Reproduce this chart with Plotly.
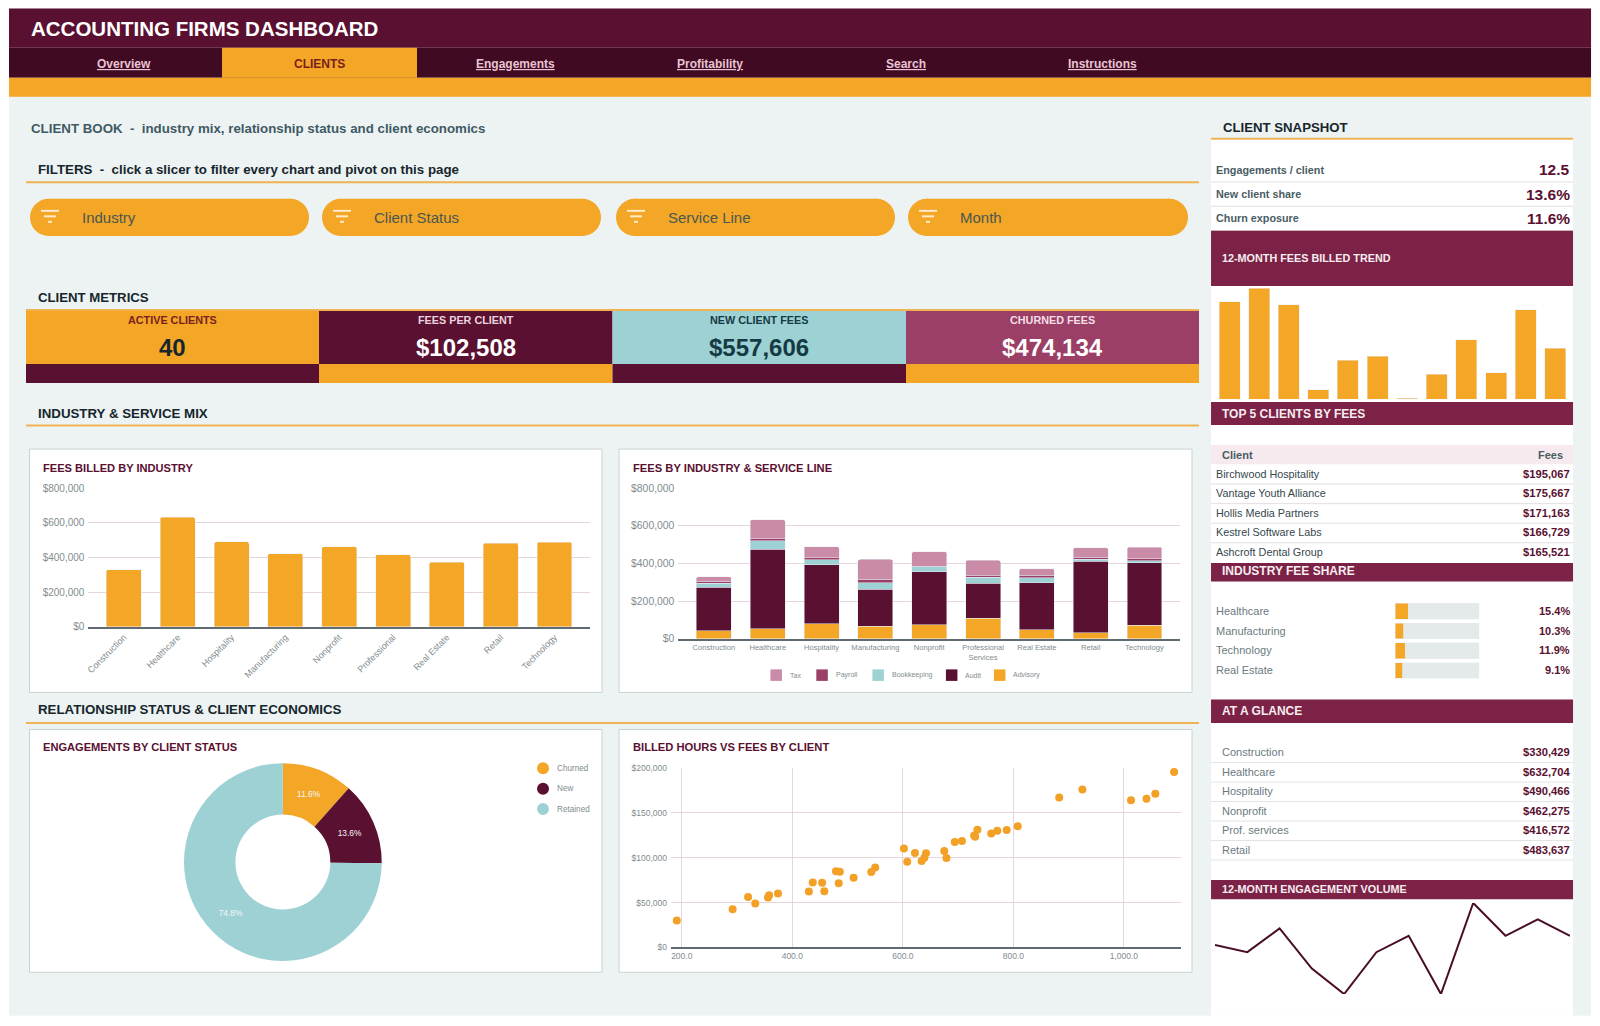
import plotly.graph_objects as go

W = 1600
H = 1026
# the photographed page comes out slightly shrunk and shifted, so layout coordinates are
# written in picture pixels and mapped back to page pixels in fx / fy
SHIFT_X = 3.0
SCALE_X = 0.9981
SHIFT_Y = 5.4
SCALE_Y = 0.9881
FONT = "Liberation Sans"

ORANGE = "#F4A626"
WINE = "#5A1031"
NAV = "#3F0A22"
BAND = "#7B2246"
TEAL = "#9DD1D4"
ROSE = "#9B3F66"
PINK = "#C98BA6"
PAGE = "#EDF3F3"
GRID = "#E6D5DC"
AXIS = "#5F6B70"
TICK = "#7F8C8F"
SLATE = "#3F5A63"
INK = "#16262C"

# nav + filters
nav_labels = ["Overview", "CLIENTS", "Engagements", "Profitability", "Search", "Instructions"]
slicers = ["Industry", "Client Status", "Service Line", "Month"]

# kpis
kpi_labels = ["ACTIVE CLIENTS", "FEES PER CLIENT", "NEW CLIENT FEES", "CHURNED FEES"]
kpi_values = ["40", "$102,508", "$557,606", "$474,134"]

# fees by industry
industries = ["Construction", "Healthcare", "Hospitality", "Manufacturing", "Nonprofit",
              "Professional", "Real Estate", "Retail", "Technology"]
industry_fees = [330429, 632704, 490466, 422300, 462275, 416572, 373100, 483637, 487900]
fee_ticks = [0, 200000, 400000, 600000, 800000]
fee_tick_labels = ["$0", "$200,000", "$400,000", "$600,000", "$800,000"]

# fees by service line, stacked from the axis up
industries2 = ["Construction", "Healthcare", "Hospitality", "Manufacturing", "Nonprofit",
               "Professional<br>Services", "Real Estate", "Retail", "Technology"]
advisory = [42000, 53000, 81000, 67000, 76000, 110000, 48000, 32000, 72600]
audit = [232000, 423000, 312000, 197000, 280000, 184000, 249500, 379000, 331000]
bookkeeping = [20000, 46000, 27000, 35000, 26500, 34000, 26500, 10500, 12000]
payroll = [12000, 9000, 10000, 18000, 2000, 7000, 12500, 10500, 11000]
tax = [24000, 101700, 60000, 105000, 78000, 81500, 36500, 51600, 61000]

# client status donut
status_labels = ["Churned", "New", "Retained"]
status_share = [11.6, 13.6, 74.8]

# billed hours vs fees
hours = [191, 292, 320, 333, 356, 358, 374, 430, 437, 454, 458, 479, 486, 484, 511, 543, 550,
         602, 608, 622, 634, 639, 642, 675, 679, 694, 707, 731, 729, 735, 760, 771, 788, 808,
         883, 925, 1013, 1041, 1057, 1091]
client_fees = [29900, 42500, 56300, 48900, 55600, 58200, 60000, 62300, 72400, 72000, 62700,
               85000, 84300, 71600, 77600, 84000, 89200, 110400, 95500, 105200, 96300, 100000,
               104900, 107500, 99600, 117500, 118700, 123500, 124800, 131300, 126900, 130200,
               131000, 135000, 167200, 176100, 164200, 165700, 171300, 195500]
scatter_x_ticks = [200, 400, 600, 800, 1000]
scatter_y_ticks = [0, 50000, 100000, 150000, 200000]
scatter_y_labels = ["$0", "$50,000", "$100,000", "$150,000", "$200,000"]

# right column
snapshot_labels = ["Engagements / client", "New client share", "Churn exposure"]
snapshot_values = ["12.5", "13.6%", "11.6%"]
months = list(range(1, 13))
monthly_fees = [616000, 703000, 599000, 61000, 248000, 273000, 8000, 157000, 377000, 167000,
                567000, 324000]
top_clients = ["Birchwood Hospitality", "Vantage Youth Alliance", "Hollis Media Partners",
               "Kestrel Software Labs", "Ashcroft Dental Group"]
top_fees = ["$195,067", "$175,667", "$171,163", "$166,729", "$165,521"]
share_labels = ["Healthcare", "Manufacturing", "Technology", "Real Estate"]
share_values = [15.4, 10.3, 11.9, 9.1]
glance_labels = ["Construction", "Healthcare", "Hospitality", "Nonprofit", "Prof. services", "Retail"]
glance_values = ["$330,429", "$632,704", "$490,466", "$462,275", "$416,572", "$483,637"]
monthly_engagements = [47, 43, 56, 34, 20, 43, 52, 20, 70, 52, 61, 52]

shapes = []
notes = []


def fx(x):
    return (x - SHIFT_X) / SCALE_X / W


def fy(y):
    return 1 - (y - SHIFT_Y) / SCALE_Y / H


def rect(x0, y0, x1, y1, fill, line=None):
    shapes.append(dict(type="rect", xref="paper", yref="paper", layer="below",
                       x0=fx(x0), x1=fx(x1), y0=fy(y0), y1=fy(y1), fillcolor=fill,
                       line=dict(color=line, width=1) if line else dict(width=0)))


def hline(x0, x1, y, color, width=1):
    shapes.append(dict(type="line", xref="paper", yref="paper", layer="below",
                       x0=fx(x0), x1=fx(x1), y0=fy(y), y1=fy(y), line=dict(color=color, width=width)))


def text(x, y, s, size=11, color=INK, bold=False, anchor="left"):
    notes.append(dict(xref="paper", yref="paper", x=fx(x), y=fy(y), text="<b>%s</b>" % s if bold else s,
                      showarrow=False, xanchor=anchor, yanchor="middle", align=anchor,
                      borderpad=0, font=dict(family=FONT, size=size, color=color)))


def dot(x0, y0, x1, y1, fill):
    shapes.append(dict(type="circle", xref="paper", yref="paper", layer="below",
                       x0=fx(x0), x1=fx(x1), y0=fy(y0), y1=fy(y1), fillcolor=fill, line=dict(width=0)))


def pill(x0, y0, x1, y1, fill):
    r = (y1 - y0) / 2
    rect(x0 + r, y0, x1 - r, y1, fill)
    dot(x0, y0, x0 + 2 * r, y1, fill)
    dot(x1 - 2 * r, y0, x1, y1, fill)


# page + header
rect(9, 9, 1591, 1015, PAGE)
rect(9, 9, 1591, 48, WINE)
rect(9, 48, 1591, 78, NAV)
rect(9, 78, 1591, 97, ORANGE)
rect(222, 48, 417, 78, ORANGE)
text(30, 28.7, "ACCOUNTING FIRMS DASHBOARD", 20.5, "white", True)

nav_x = [124, 319.5, 515, 710, 905.5, 1102]
for label, x in zip(nav_labels, nav_x):
    if label == "CLIENTS":
        text(x, 64, label, 12, "#7A1E1E", True, "center")
    else:
        text(x, 64, "<u>%s</u>" % label, 12, "#E9C4D2", True, "center")

text(30, 128.8, "<b>CLIENT BOOK  -  industry mix, relationship status and client economics</b>", 13.3, SLATE)
text(37, 170, "<b>FILTERS  -  click a slicer to filter every chart and pivot on this page</b>", 13.3, INK)
hline(26, 1199, 182.5, "#F0B354", 2)

pill_x = [(30, 309), (322, 601), (616, 895), (908, 1188)]
for label, (x0, x1) in zip(slicers, pill_x):
    pill(x0, 199, x1, 236, ORANGE)
    ix = x0 + 11
    hline(ix, ix + 18, 211, "#FDEBCB", 2)
    hline(ix + 3, ix + 15, 216.5, "#FDEBCB", 2)
    hline(ix + 7, ix + 11, 222, "#FDEBCB", 2)
    text(x0 + 51, 218, label, 15, "#4A5850")

# kpi tiles
text(37, 298, "<b>CLIENT METRICS</b>", 13.2, INK)
hline(26, 1199, 310, "#F0B354", 2)
kpi_x = [26, 319, 612.5, 906, 1199]
kpi_fill = [ORANGE, WINE, TEAL, ROSE]
kpi_foot = [WINE, ORANGE, WINE, ORANGE]
kpi_head_color = ["#7A1E1E", "#EBD3DD", "#143A44", "#F3DFE7"]
kpi_value_color = [INK, "white", "#143A44", "white"]
for i in range(4):
    rect(kpi_x[i], 311, kpi_x[i + 1], 364, kpi_fill[i])
    rect(kpi_x[i], 364, kpi_x[i + 1], 383, kpi_foot[i])
    mid = (kpi_x[i] + kpi_x[i + 1]) / 2
    text(mid, 320, kpi_labels[i], 10.8, kpi_head_color[i], True, "center")
    text(mid, 347.5, kpi_values[i], 24, kpi_value_color[i], True, "center")

# section heads and chart cards
text(37, 413, "<b>INDUSTRY &amp; SERVICE MIX</b>", 13.3, INK)
hline(26, 1199, 425.5, "#F0B354", 2)
text(37, 709, "<b>RELATIONSHIP STATUS &amp; CLIENT ECONOMICS</b>", 13.3, INK)
hline(26, 1199, 722.5, "#F0B354", 2)
for x0, x1, y0, y1 in [(29.5, 602, 449, 692), (619, 1192, 449, 692),
                       (29.5, 602, 729, 971.5), (619, 1192, 729, 971.5)]:
    rect(x0, y0, x1, y1, "white", "#C9D2D2")
text(41.5, 467.5, "FEES BILLED BY INDUSTRY", 11.1, WINE, True)
text(631.5, 467.5, "FEES BY INDUSTRY &amp; SERVICE LINE", 11.2, WINE, True)
text(41.5, 747, "ENGAGEMENTS BY CLIENT STATUS", 11.1, WINE, True)
text(631.5, 747, "BILLED HOURS VS FEES BY CLIENT", 11.2, WINE, True)

# status legend
status_colors = [ORANGE, WINE, TEAL]
for i, label in enumerate(status_labels):
    ly = 767.7 + i * 20.4
    dot(537, ly - 6, 549, ly + 6, status_colors[i])
    text(555.5, ly, label, 8.2, TICK)

# service line legend, drawn by hand so the swatch spacing stays tight
series = [("Advisory", advisory, ORANGE), ("Audit", audit, WINE), ("Bookkeeping", bookkeeping, TEAL),
          ("Payroll", payroll, ROSE), ("Tax", tax, PINK)]
swatch_x = [993.9, 945.9, 872.4, 816.3, 770.4]
for (name, vals, color), sx in zip(series, swatch_x):
    rect(sx, 669, sx + 11.5, 680.5, color)
    text(sx + 18.5, 675, name, 7, TICK)

# right column
rect(1211, 139, 1573, 1015, "white")
text(1222, 128, "<b>CLIENT SNAPSHOT</b>", 13.2, INK)
hline(1211, 1573, 139, "#F0B354", 2)
for i, label in enumerate(snapshot_labels):
    y = 170 + i * 24.2
    text(1215, y, label, 10.8, "#4A5C63", True)
    text(1571, y, snapshot_values[i], 15.5, WINE, True, "right")
    hline(1211, 1573, y + 12.2, "#E8DEE2", 1)

rect(1211, 231, 1573, 286, BAND)
text(1221, 258.5, "12-MONTH FEES BILLED TREND", 10.8, "#F7EDF1", True)
rect(1211, 402, 1573, 425, BAND)
text(1221, 413.5, "TOP 5 CLIENTS BY FEES", 12, "#F7EDF1", True)
rect(1211, 445, 1573, 464, "#F6EAEE")
text(1221, 454.5, "Client", 11, "#4A5C63", True)
text(1564, 454.5, "Fees", 11, "#4A5C63", True, "right")
for i, label in enumerate(top_clients):
    y = 473.5 + i * 19.55
    text(1215, y, label, 10.8, "#35474E")
    text(1571, y, top_fees[i], 11.2, WINE, True, "right")
    if i < 4:
        hline(1211, 1573, y + 10.4, "#E4DEE1", 1)

rect(1211, 562.7, 1573, 581.3, BAND)
text(1221, 571.2, "INDUSTRY FEE SHARE", 12, "#F7EDF1", True)
for i, label in enumerate(share_labels):
    y = 610.5 + i * 19.67
    text(1215, y, label, 11, "#6B7A80")
    text(1571, y, "%.1f%%" % share_values[i], 11, WINE, True, "right")

rect(1211, 699, 1573, 722.5, BAND)
text(1221, 711, "AT A GLANCE", 12, "#F7EDF1", True)
for i, label in enumerate(glance_labels):
    y = 751.7 + i * 19.45
    text(1221, y, label, 11, "#6B7A80")
    text(1571, y, glance_values[i], 11.2, WINE, True, "right")
    hline(1211, 1573, y + 10.4, "#E1E3E4", 1)

rect(1211, 879.3, 1573, 898.7, BAND)
text(1221, 888.8, "12-MONTH ENGAGEMENT VOLUME", 10.8, "#F7EDF1", True)

# charts
fig = go.Figure()

fig.add_trace(go.Bar(x=industries, y=industry_fees, marker=dict(color=ORANGE, cornerradius=2),
                     showlegend=False, xaxis="x", yaxis="y"))

for name, vals, color in series:
    fig.add_trace(go.Bar(x=industries2, y=vals, name=name, marker=dict(color=color, cornerradius=2),
                         showlegend=False, xaxis="x2", yaxis="y2"))

fig.add_trace(go.Pie(labels=status_labels, values=status_share, sort=False, direction="clockwise",
                     rotation=0, hole=0.48, marker=dict(colors=status_colors, line=dict(width=0)),
                     texttemplate="%{value:.1f}%", textposition="inside", insidetextorientation="horizontal",
                     textfont=dict(family=FONT, size=8.4, color="#F4F7F7"), showlegend=False,
                     domain=dict(x=[fx(183.9), fx(381.8)], y=[fy(960.2), fy(762.7)])))

fig.add_trace(go.Scatter(x=hours, y=client_fees, mode="markers", showlegend=False,
                         marker=dict(color="#F2A126", size=8), cliponaxis=False, xaxis="x3", yaxis="y3"))

fig.add_trace(go.Bar(x=months, y=monthly_fees, marker=dict(color=ORANGE), showlegend=False,
                     xaxis="x4", yaxis="y4"))

fig.add_trace(go.Bar(y=share_labels, x=share_values, orientation="h", marker=dict(color=ORANGE),
                     showlegend=False, xaxis="x5", yaxis="y5"))
fig.add_trace(go.Bar(y=share_labels, x=[100 - v for v in share_values], orientation="h",
                     marker=dict(color="#E4E9EA"), showlegend=False, xaxis="x5", yaxis="y5"))

fig.add_trace(go.Scatter(x=months, y=monthly_engagements, mode="lines", showlegend=False,
                         line=dict(color="#4A0D28", width=2), cliponaxis=False, xaxis="x6", yaxis="y6"))

tick_font = dict(family=FONT, size=10, color=TICK)
tick_font_x = dict(family=FONT, size=9, color=TICK)
tick_font2 = dict(family=FONT, size=10.4, color=TICK)
small_font = dict(family=FONT, size=7.6, color=TICK)
scatter_font = dict(family=FONT, size=8.5, color=TICK)


def money_axis(top, bottom, tickvals, ticktext, font=tick_font):
    return dict(domain=[fy(bottom), fy(top)], range=[tickvals[0], tickvals[-1]], tickvals=tickvals,
                ticktext=ticktext, showgrid=True, gridcolor=GRID, gridwidth=1.3,
                zeroline=False, showline=False, ticks="", tickfont=font, ticklabelstandoff=3)


hidden = dict(visible=False, showgrid=False, zeroline=False)

fig.update_layout(
    width=W, height=H, autosize=False,
    margin=dict(l=0, r=0, t=0, b=0),
    paper_bgcolor="white", plot_bgcolor="rgba(0,0,0,0)",
    barmode="stack", hovermode=False,
    shapes=shapes, annotations=notes,
    font=dict(family=FONT),
    xaxis=dict(domain=[fx(88.4), fx(590)], range=[-0.66, 8.66], anchor="y", tickangle=-45,
               tickfont=tick_font_x, showgrid=False, showline=True, linecolor=AXIS, linewidth=1.5,
               ticks="", fixedrange=True),
    yaxis=dict(anchor="x", **money_axis(488, 626.5, fee_ticks, fee_tick_labels)),
    xaxis2=dict(domain=[fx(678.4), fx(1180)], range=[-0.66, 8.66], anchor="y2", tickangle=0,
                tickfont=small_font, showgrid=False, showline=True, linecolor=AXIS, linewidth=1.5,
                ticks=""),
    yaxis2=dict(anchor="x2", **money_axis(488, 638.5, fee_ticks, fee_tick_labels, tick_font2)),
    xaxis3=dict(domain=[fx(671), fx(1180.5)], range=[180.5, 1102.6], anchor="y3", tickvals=scatter_x_ticks,
                tickformat=",.1f", tickfont=scatter_font, showgrid=True, gridcolor=GRID, gridwidth=1.3,
                zeroline=False, showline=True, linecolor=AXIS, linewidth=1.5, ticks=""),
    yaxis3=dict(anchor="x3", **money_axis(767.5, 946.7, scatter_y_ticks, scatter_y_labels, scatter_font)),
    xaxis4=dict(domain=[fx(1214.7), fx(1570)], range=[0.5, 12.5], anchor="y4", **hidden),
    yaxis4=dict(domain=[fy(399.2), fy(288.3)], range=[0, 703000], anchor="x4", **hidden),
    xaxis5=dict(domain=[fx(1395), fx(1479.3)], range=[0, 100], anchor="y5", **hidden),
    yaxis5=dict(domain=[fy(680), fy(601.2)], autorange="reversed", anchor="x5", **hidden),
    xaxis6=dict(domain=[fx(1215), fx(1570)], range=[1, 12], anchor="y6", **hidden),
    yaxis6=dict(domain=[fy(993.3), fy(902.3)], range=[20, 70], anchor="x6", **hidden),
    bargap=0.35,
)
# the side sparkline bars sit a little closer together than the main charts
fig.data[8].update(width=0.71)
fig.data[9].update(width=0.8)
fig.data[10].update(width=0.8)

# pin the chart to the window corner instead of the default body margin
pin = ("document.documentElement.style.setProperty('margin','0','important');"
       "document.body.style.setProperty('margin','0','important');"
       "var d=document.querySelector('.plotly-graph-div');"
       "d.style.setProperty('position','fixed','important');"
       "d.style.left='0';d.style.top='0';")
fig.write_html("out.html", config={"displayModeBar": False}, post_script=pin)
